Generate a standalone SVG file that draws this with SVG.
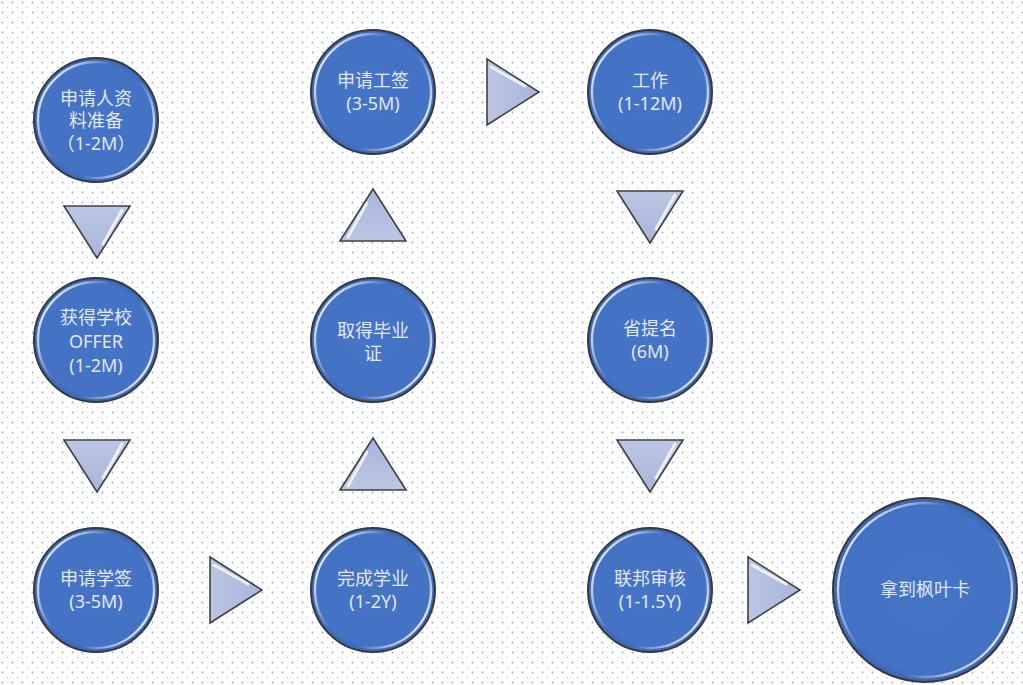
<svg xmlns="http://www.w3.org/2000/svg" width="1023" height="685" viewBox="0 0 1023 685">
<defs>
  <pattern id="dots" width="10" height="10" patternUnits="userSpaceOnUse">
    <circle cx="2.5" cy="2.5" r="0.9" fill="#8aa4e0"/>
    <circle cx="7.5" cy="7.5" r="0.7" fill="#b3c4ee"/>
  </pattern>
  <linearGradient id="rim" x1="0" y1="0.2" x2="1" y2="0.8">
    <stop offset="0" stop-color="#ffffff" stop-opacity="0.95"/>
    <stop offset="0.22" stop-color="#ffffff" stop-opacity="0.45"/>
    <stop offset="0.38" stop-color="#ffffff" stop-opacity="0"/>
    <stop offset="0.62" stop-color="#ffffff" stop-opacity="0"/>
    <stop offset="0.78" stop-color="#ffffff" stop-opacity="0.45"/>
    <stop offset="1" stop-color="#ffffff" stop-opacity="0.95"/>
  </linearGradient>
  <radialGradient id="ball" cx="0.5" cy="0.5" r="0.5">
    <stop offset="0" stop-color="#4573c5"/>
    <stop offset="0.9" stop-color="#4472c4"/>
    <stop offset="1" stop-color="#3b65b2"/>
  </radialGradient>
  <linearGradient id="trifill" x1="0" y1="0" x2="0" y2="1">
    <stop offset="0" stop-color="#bcc6e4"/>
    <stop offset="1" stop-color="#a8b5da"/>
  </linearGradient>
  <g id="tri">
    <path d="M-33,-26 L33,-26 L0,26 Z" fill="url(#trifill)" stroke="#404040" stroke-width="1.6" stroke-linejoin="miter"/>
    <path d="M25,-22 L6,12" stroke="#ffffff" stroke-opacity="0.75" stroke-width="3" stroke-linecap="round"/>
  </g>
  <style>
    .ball { fill: url(#ball); stroke: #383838; stroke-width: 2; }
    .rim { fill: none; stroke: url(#rim); stroke-width: 2.4; }
    .lbl { font-family: "Noto Sans", "Noto Sans CJK SC", sans-serif; font-size: 18px; fill: #e2e8f4; text-anchor: middle; }
  </style>
</defs>
<rect x="0" y="0" width="1023" height="685" fill="#ffffff"/>
<rect x="0" y="0" width="1023" height="685" fill="url(#dots)"/>

<g id="connectors">
  <use href="#tri" transform="translate(97,232)"/>
  <use href="#tri" transform="translate(97,466)"/>
  <use href="#tri" transform="translate(236,590) rotate(-90)"/>
  <use href="#tri" transform="translate(373,464) rotate(180)"/>
  <use href="#tri" transform="translate(373,215) rotate(180)"/>
  <use href="#tri" transform="translate(513,92) rotate(-90)"/>
  <use href="#tri" transform="translate(650,217)"/>
  <use href="#tri" transform="translate(650,466)"/>
  <use href="#tri" transform="translate(774,590) rotate(-90)"/>
</g>

<g id="n1">
  <circle class="ball" cx="96" cy="120" r="62"/>
  <circle class="rim" cx="96" cy="120" r="58"/>
  <text class="lbl" x="96" y="104.5">申请人资</text>
  <text class="lbl" x="96" y="126.5">料准备</text>
  <text class="lbl" x="96" y="149.5">（1-2M）</text>
</g>
<g id="n2">
  <circle class="ball" cx="96" cy="340" r="62"/>
  <circle class="rim" cx="96" cy="340" r="58"/>
  <text class="lbl" x="96" y="323.5">获得学校</text>
  <text class="lbl" x="96" y="347.5">OFFER</text>
  <text class="lbl" x="96" y="371.5">(1-2M)</text>
</g>
<g id="n3">
  <circle class="ball" cx="96" cy="590" r="62"/>
  <circle class="rim" cx="96" cy="590" r="58"/>
  <text class="lbl" x="96" y="584.5">申请学签</text>
  <text class="lbl" x="96" y="607.5">(3-5M)</text>
</g>
<g id="n4">
  <circle class="ball" cx="373" cy="590" r="62"/>
  <circle class="rim" cx="373" cy="590" r="58"/>
  <text class="lbl" x="373" y="584.5">完成学业</text>
  <text class="lbl" x="373" y="607.5">(1-2Y)</text>
</g>
<g id="n5">
  <circle class="ball" cx="373" cy="340" r="62"/>
  <circle class="rim" cx="373" cy="340" r="58"/>
  <text class="lbl" x="373" y="336.5">取得毕业</text>
  <text class="lbl" x="373" y="359.5">证</text>
</g>
<g id="n6">
  <circle class="ball" cx="373" cy="92" r="62"/>
  <circle class="rim" cx="373" cy="92" r="58"/>
  <text class="lbl" x="373" y="86.5">申请工签</text>
  <text class="lbl" x="373" y="109.5">(3-5M)</text>
</g>
<g id="n7">
  <circle class="ball" cx="650" cy="92" r="62"/>
  <circle class="rim" cx="650" cy="92" r="58"/>
  <text class="lbl" x="650" y="86.5">工作</text>
  <text class="lbl" x="650" y="109.5">(1-12M)</text>
</g>
<g id="n8">
  <circle class="ball" cx="650" cy="340" r="62"/>
  <circle class="rim" cx="650" cy="340" r="58"/>
  <text class="lbl" x="650" y="334.5">省提名</text>
  <text class="lbl" x="650" y="357.5">(6M)</text>
</g>
<g id="n9">
  <circle class="ball" cx="650" cy="590" r="62"/>
  <circle class="rim" cx="650" cy="590" r="58"/>
  <text class="lbl" x="650" y="584.5">联邦审核</text>
  <text class="lbl" x="650" y="607.5">(1-1.5Y)</text>
</g>
<g id="n10">
  <circle class="ball" cx="925" cy="590" r="92"/>
  <circle class="rim" cx="925" cy="590" r="87"/>
  <text class="lbl" x="925" y="596">拿到枫叶卡</text>
</g>
</svg>
